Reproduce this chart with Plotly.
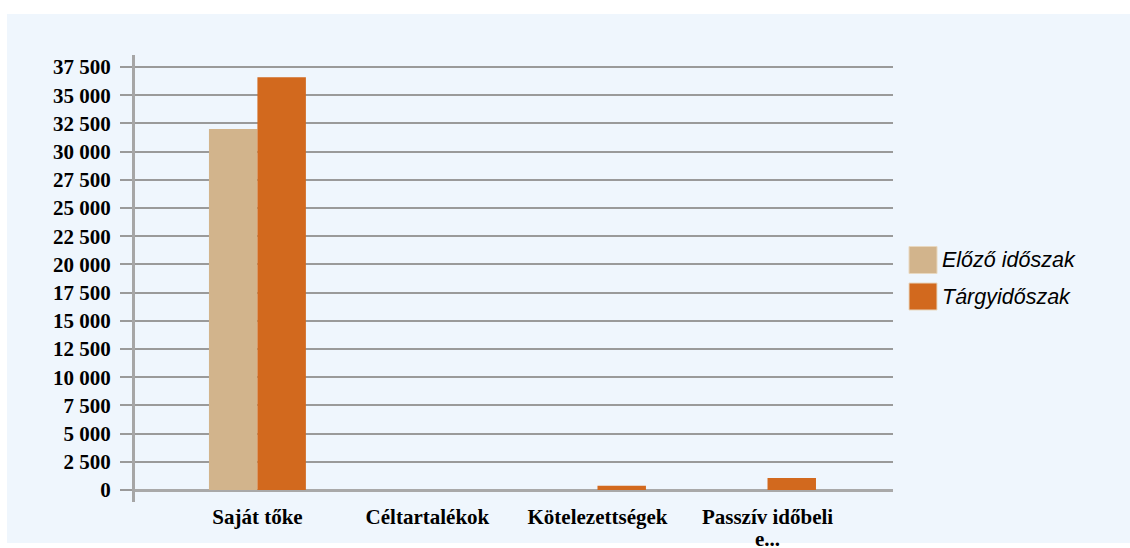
import plotly.graph_objects as go

categories = ["Saját tőke", "Céltartalékok", "Kötelezettségek", "Passzív időbeli<br>e..."]
series_names = ["Előző időszak", "Tárgyidőszak"]
prev_values = [32000, 0, 0, 0]
curr_values = [36600, 0, 380, 1060]
tick_values = [0, 2500, 5000, 7500, 10000, 12500, 15000, 17500, 20000,
               22500, 25000, 27500, 30000, 32500, 35000, 37500]
tick_labels = [f"{v:,}".replace(",", " ") for v in tick_values]
colors = ["#D2B48C", "#D2691E"]

W, H = 1130, 548
ml, mr, mt, mb = 135, 237, 55, 46
pw, ph = W - ml - mr, H - mt - mb

def px_x(p):
    return (p - ml) / pw

def px_y(p):
    return (H - mb - p) / ph

serif = "Liberation Serif, Times New Roman, serif"
first_lines = [c.split("<br>")[0] for c in categories]

fig = go.Figure()
for name, vals, col in zip(series_names, [prev_values, curr_values], colors):
    fig.add_trace(go.Bar(x=categories, y=vals, name=name, marker_color=col,
                         marker_line_width=0, showlegend=False))

# continuation lines of wrapped category labels (tight line spacing)
for c in categories:
    parts = c.split("<br>")
    for k, extra in enumerate(parts[1:], start=1):
        fig.add_annotation(xref="x", yref="paper", x=c, y=px_y(516 + 23 * k),
                           text=f"<b>{extra}</b>", showarrow=False,
                           xanchor="center", yanchor="middle", borderpad=0,
                           font=dict(family=serif, size=21, color="#000"))

# background panel
fig.add_shape(type="rect", xref="paper", yref="paper",
              x0=px_x(7), x1=px_x(1131), y0=px_y(543), y1=px_y(14),
              fillcolor="#EFF6FD", line_width=0, layer="below")

# legend
leg_y = [260, 296.5]
for name, col, yc in zip(series_names, colors, leg_y):
    fig.add_shape(type="rect", xref="paper", yref="paper",
                  x0=px_x(909), x1=px_x(937), y0=px_y(yc + 13.5), y1=px_y(yc - 13.5),
                  fillcolor=col, line=dict(color="#E8D8C0", width=1))
    fig.add_annotation(xref="paper", yref="paper", x=px_x(940), y=px_y(yc),
                       text=f"<i>{name}</i>", showarrow=False, xanchor="left",
                       yanchor="middle",
                       font=dict(family="Liberation Sans, Arial", size=21.5, color="#000"))

fig.update_layout(
    width=W, height=H,
    margin=dict(l=ml, r=mr, t=mt, b=mb, autoexpand=False),
    paper_bgcolor="white",
    plot_bgcolor="rgba(0,0,0,0)",
    barmode="group",
    bargap=0.43,
    bargroupgap=0,
    xaxis=dict(range=[-0.72, 3.738], showline=False, showgrid=False, ticks="",
               automargin=False, tickvals=categories, ticktext=first_lines,
               tickfont=dict(family=serif, size=21, color="#000", weight="bold"),
               zeroline=False, fixedrange=True),
    yaxis=dict(range=[-1064, 38564], tickvals=tick_values, ticktext=tick_labels,
               automargin=False,
               showline=True, linecolor="#A6A6A6", linewidth=3,
               showgrid=True, gridcolor="#9A9A9A", gridwidth=1.5,
               ticks="outside", ticklen=12, tickcolor="#9A9A9A", tickwidth=1.5,
               ticklabelstandoff=5,
               zeroline=True, zerolinecolor="#A9A9A9", zerolinewidth=3,
               tickfont=dict(family=serif, size=21, color="#000", weight="bold"),
               fixedrange=True),
)

fig.write_html("out.html", config={"displayModeBar": False},
               post_script="document.body.style.margin='0';")
